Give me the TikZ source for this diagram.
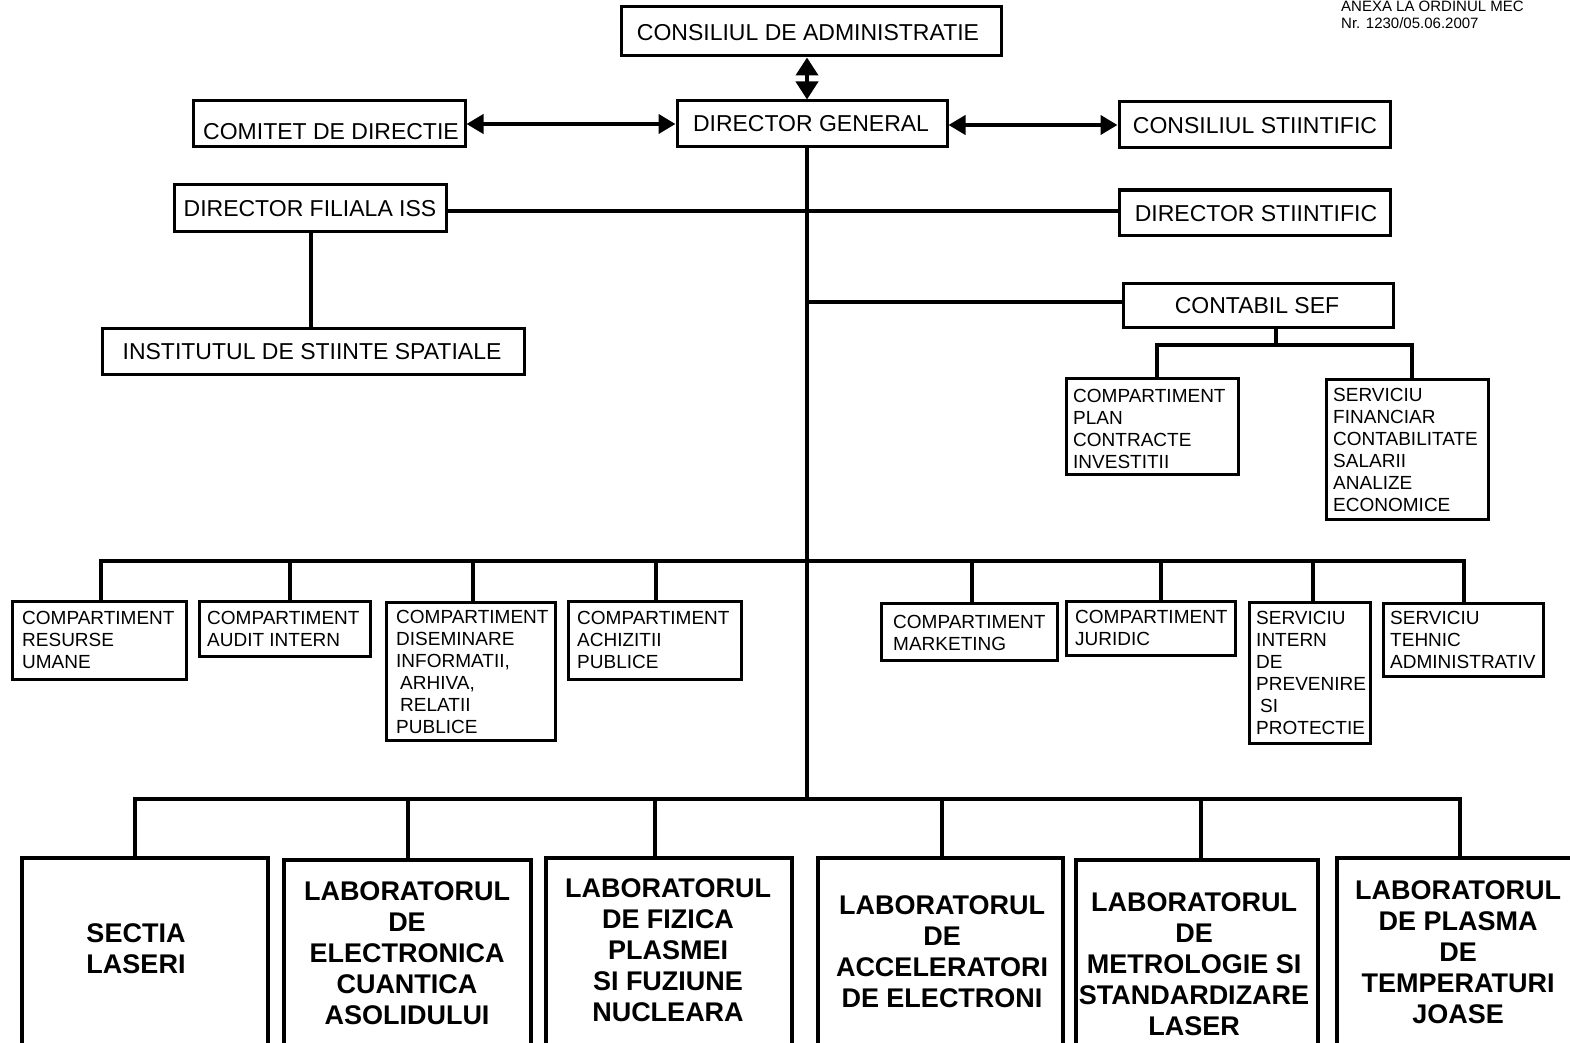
\documentclass[tikz,border=0pt]{standalone}
\usepackage{fontspec}
\setmainfont{Liberation Sans}
\usetikzlibrary{arrows.meta,fit}
\begin{document}
\begin{tikzpicture}[x=1pt,y=-1pt,
  box/.style={draw, line width=3pt, inner sep=0pt, rectangle},
  labbox/.style={draw, line width=4pt, inner sep=0pt, rectangle},
  conn/.style={line width=3.5pt},
  trunk/.style={line width=4pt},
  harrow/.style={line width=4pt, {Triangle[length=17pt,width=19pt]}-{Triangle[length=17pt,width=19pt]}},
  varrow/.style={line width=4pt, {Triangle[length=18pt,width=22pt]}-{Triangle[length=18pt,width=22pt]}},
  toptxt/.style={inner sep=0pt, anchor=base, font=\fontsize{23}{27}\selectfont},
  smalltxt/.style={inner sep=0pt, anchor=north west, align=left, font=\fontsize{19}{22}\selectfont},
  labtxt/.style={inner sep=0pt, anchor=north, align=center, font=\bfseries\fontsize{27}{31}\selectfont},
]
\path[use as bounding box, clip] (0,0) rectangle (1570,1043);
\fill[white] (0,0) rectangle (1570,1043);

% annex
\node[inner sep=0pt, anchor=north west, align=left, font=\fontsize{15}{17}\selectfont] (anx) at (1341,0.5) {ANEXA LA ORDINUL MEC\\Nr. 1230/05.06.2007};

% top boxes
\node[box, fit={(621,7)(1001,56)}] (ca) {};
\node[toptxt] (caT) at (808,41) {CONSILIUL DE ADMINISTRATIE};
\node[box, fit={(677,101)(947,147)}] (dg) {};
\node[toptxt] (dgT) at (811,132) {DIRECTOR GENERAL};
\node[box, fit={(193,101)(465,147)}] (cd) {};
\node[toptxt] (cdT) at (331,140) {COMITET DE DIRECTIE};
\node[box, fit={(1119,102)(1390,148)}] (cs) {};
\node[toptxt] (csT) at (1255,134) {CONSILIUL STIINTIFIC};
\node[box, fit={(174,185)(446,231)}] (fil) {};
\node[toptxt] (filT) at (310,216) {DIRECTOR FILIALA ISS};
\node[box, fit={(1119,190)(1390,235)}] (ds) {};
\node[toptxt] (dsT) at (1256,221) {DIRECTOR STIINTIFIC};
\node[box, fit={(1123,283)(1393,327)}] (cf) {};
\node[toptxt] (cfT) at (1257,313) {CONTABIL SEF};
\node[box, fit={(102,328)(524,374)}] (iss) {};
\node[toptxt] (issT) at (312,359) {INSTITUTUL DE STIINTE SPATIALE};

% finance boxes
\node[box, fit={(1066,378)(1238,474)}] (pl) {};
\node[smalltxt] (plT) at (1073,389) {COMPARTIMENT\\PLAN\\CONTRACTE\\INVESTITII};
\node[box, fit={(1326,379)(1488,519)}] (fin) {};
\node[smalltxt] (finT) at (1333,388) {SERVICIU\\FINANCIAR\\CONTABILITATE\\SALARII\\ANALIZE\\ECONOMICE};

% middle boxes
\node[box, fit={(12,601)(186,679)}] (rh) {};
\node[smalltxt] (rhT) at (22,611) {COMPARTIMENT\\RESURSE\\UMANE};
\node[box, fit={(199,601)(370,656)}] (au) {};
\node[smalltxt] (auT) at (207,611) {COMPARTIMENT\\AUDIT INTERN};
\node[box, fit={(386,602)(555,740)}] (dis) {};
\node[smalltxt] (disT) at (396,610) {COMPARTIMENT\\DISEMINARE\\INFORMATII,\\\hspace*{4pt}ARHIVA,\\\hspace*{4pt}RELATII\\PUBLICE};
\node[box, fit={(568,601)(741,679)}] (ach) {};
\node[smalltxt] (achT) at (577,611) {COMPARTIMENT\\ACHIZITII\\PUBLICE};
\node[box, fit={(881,603)(1057,660)}] (mk) {};
\node[smalltxt] (mkT) at (893,615) {COMPARTIMENT\\MARKETING};
\node[box, fit={(1066,601)(1235,655)}] (jur) {};
\node[smalltxt] (jurT) at (1075,610) {COMPARTIMENT\\JURIDIC};
\node[box, fit={(1249,602)(1370,743)}] (sip) {};
\node[smalltxt] (sipT) at (1256,611) {SERVICIU\\INTERN\\DE\\PREVENIRE\\\hspace*{4pt}SI\\PROTECTIE};
\node[box, fit={(1383,603)(1543,676)}] (sta) {};
\node[smalltxt] (staT) at (1390,611) {SERVICIU\\TEHNIC\\ADMINISTRATIV};

% lab boxes
\node[labbox, fit={(22,858)(268,1075)}] (l1) {};
\node[labtxt] (l1T) at (136,923) {SECTIA\\LASERI};
\node[labbox, fit={(284,860)(531,1075)}] (l2) {};
\node[labtxt] (l2T) at (407,881) {LABORATORUL\\DE\\ELECTRONICA\\CUANTICA\\ASOLIDULUI};
\node[labbox, fit={(546,858)(792,1075)}] (l3) {};
\node[labtxt] (l3T) at (668,878) {LABORATORUL\\DE FIZICA\\PLASMEI\\SI FUZIUNE\\NUCLEARA};
\node[labbox, fit={(818,858)(1063,1075)}] (l4) {};
\node[labtxt] (l4T) at (942,895) {LABORATORUL\\DE\\ACCELERATORI\\DE ELECTRONI};
\node[labbox, fit={(1076,860)(1318,1075)}] (l5) {};
\node[labtxt] (l5T) at (1194,892) {LABORATORUL\\DE\\METROLOGIE SI\\STANDARDIZARE\\LASER};
\node[labbox, fit={(1337,858)(1600,1075)}] (l6) {};
\node[labtxt] (l6T) at (1458,880) {LABORATORUL\\DE PLASMA\\DE\\TEMPERATURI\\JOASE};

% coordinates
\coordinate (b2) at (807,561);
\coordinate (b3) at (807,799);
\coordinate (fl) at (0,211);
\coordinate (cy) at (807,302);
\coordinate (ix) at (311,0);
\coordinate (ay) at (0,124);
\coordinate (by) at (0,125);
\coordinate (cb) at (1276,345);
\coordinate (cbl) at (1157,345);
\coordinate (cbr) at (1412,345);

% arrows
\draw[varrow] (ca.south -| b3) -- (dg.north -| b3);
\draw[harrow] (cd.east |- ay) -- (dg.west |- ay);
\draw[harrow] (dg.east |- by) -- (cs.west |- by);

% trunk
\draw[trunk] (dg.south -| b3) -- (b3);
\draw[conn] (fil.east |- fl) -- (ds.west |- fl);
\draw[conn] (cy) -- (cf.west |- cy);
\draw[conn] (fil.south -| ix) -- (iss.north -| ix);

% contabil sef sub-tree
\draw[conn] (cf.south -| cb) -- (cb);
\draw[conn] (pl.north -| cbl) -- (cbl) -- (cbr) -- (fin.north -| cbr);

% middle bus
\foreach \n/\x in {rh/101,au/290,dis/473,ach/656,mk/972,jur/1161,sip/1313,sta/1464}
  {\coordinate (m\n) at (\x,561);}
\draw[conn] (rh.north -| mrh) -- (mrh) -- (msta) -- (sta.north -| msta);
\foreach \n in {au,dis,ach,mk,jur,sip}
  {\draw[conn] (m\n) -- (\n.north -| m\n);}

% bottom bus
\foreach \n/\x in {l1/135,l2/408,l3/655,l4/942,l5/1201,l6/1460}
  {\coordinate (k\n) at (\x,799);}
\draw[conn] (l1.north -| kl1) -- (kl1) -- (kl6) -- (l6.north -| kl6);
\foreach \n in {l2,l3,l4,l5}
  {\draw[conn] (k\n) -- (\n.north -| k\n);}
\end{tikzpicture}
\end{document}
